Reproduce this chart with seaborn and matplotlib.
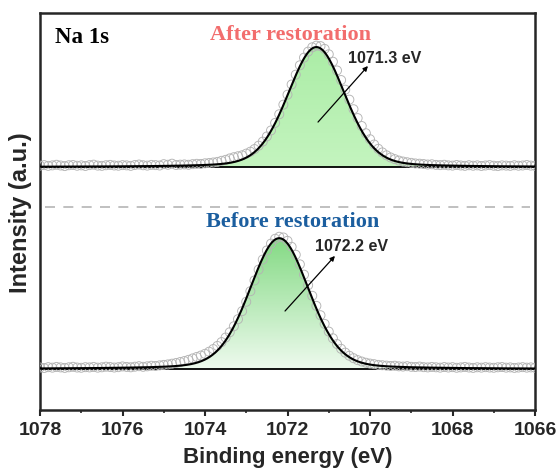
import numpy as np
import pandas as pd
import matplotlib
matplotlib.use("Agg")
import matplotlib.pyplot as plt
from matplotlib.colors import LinearSegmentedColormap
import seaborn as sns

# ---- data -------------------------------------------------------------
# binding-energy sampling of the survey (0.1 eV step)
energy = np.linspace(1078.0, 1066.0, 121)

# measured Na 1s counts (normalised, baseline removed)
after_counts = [
    0.012, 0.016, 0.010, 0.014, 0.019, 0.013, 0.008, 0.015, 0.017, 0.011,
    0.014, 0.009, 0.016, 0.020, 0.012, 0.010, 0.015, 0.018, 0.013, 0.011,
    0.016, 0.014, 0.010, 0.017, 0.021, 0.015, 0.012, 0.018, 0.016, 0.013,
    0.024, 0.019, 0.028, 0.017, 0.020, 0.022, 0.019, 0.024, 0.027, 0.026,
    0.031, 0.034, 0.038, 0.043, 0.052, 0.060, 0.072, 0.082, 0.090, 0.098,
    0.112, 0.128, 0.150, 0.178, 0.212, 0.255, 0.305, 0.368, 0.440, 0.520,
    0.603, 0.688, 0.770, 0.848, 0.912, 0.962, 0.998, 1.012, 1.008, 0.985,
    0.940, 0.878, 0.805, 0.725, 0.645, 0.562, 0.482, 0.408, 0.342, 0.282,
    0.232, 0.188, 0.152, 0.122, 0.098, 0.080, 0.066, 0.054, 0.046, 0.040,
    0.035, 0.030, 0.028, 0.025, 0.021, 0.023, 0.018, 0.016, 0.019, 0.014,
    0.012, 0.017, 0.013, 0.010, 0.015, 0.011, 0.014, 0.009, 0.013, 0.016,
    0.011, 0.008, 0.014, 0.012, 0.010, 0.015, 0.011, 0.013, 0.017, 0.012,
    0.010,
]
before_counts = [
    0.012, 0.008, 0.015, 0.011, 0.017, 0.013, 0.009, 0.014, 0.018, 0.012,
    0.010, 0.015, 0.013, 0.017, 0.011, 0.014, 0.019, 0.016, 0.012, 0.015,
    0.021, 0.017, 0.014, 0.019, 0.023, 0.018, 0.022, 0.027, 0.025, 0.030,
    0.034, 0.038, 0.044, 0.050, 0.058, 0.066, 0.076, 0.088, 0.100, 0.112,
    0.126, 0.144, 0.166, 0.192, 0.224, 0.262, 0.306, 0.356, 0.415, 0.482,
    0.560, 0.648, 0.738, 0.828, 0.912, 0.988, 1.045, 1.085, 1.102, 1.096,
    1.068, 1.018, 0.952, 0.872, 0.786, 0.698, 0.610, 0.526, 0.448, 0.376,
    0.312, 0.256, 0.208, 0.168, 0.136, 0.110, 0.090, 0.074, 0.062, 0.052,
    0.045, 0.040, 0.034, 0.031, 0.028, 0.025, 0.027, 0.022, 0.020, 0.023,
    0.018, 0.016, 0.020, 0.015, 0.013, 0.017, 0.014, 0.011, 0.016, 0.012,
    0.015, 0.010, 0.013, 0.017, 0.012, 0.009, 0.014, 0.011, 0.015, 0.012,
    0.010, 0.014, 0.016, 0.011, 0.013, 0.009, 0.012, 0.015, 0.011, 0.013,
    0.010,
]

# fitted Gaussian-Lorentzian components
labels = ["After restoration", "Before restoration"]
label_colors = ["#f26d6d", "#1b5e9f"]
peak_centers = [1071.3, 1072.2]
peak_heights = [1.0, 1.09]
peak_fwhm = [1.64, 1.70]
gl_mix = 0.2
offsets = [1.683, 0.0]

x_ticks = [1078, 1076, 1074, 1072, 1070, 1068, 1066]


def gl_peak(x, center, height, fwhm, mix):
    u = ((x - center) / (fwhm / 2.0)) ** 2
    return height * ((1 - mix) * np.exp(-np.log(2) * u) + mix / (1 + u))


# ---- figure -----------------------------------------------------------
sns.set_style("ticks")
plt.rcParams["font.family"] = ["Liberation Sans", "DejaVu Sans"]

fig = plt.figure(figsize=(5.6, 4.77), dpi=100)
ax = fig.add_axes([40 / 560, 66 / 477, 495 / 560, 397 / 477])

x_fit = np.linspace(1078.0, 1066.0, 1201)
fills = [("#abeda6", "#c4f4bf"), ("#84da84", "#eefaee")]

for k, counts in enumerate([after_counts, before_counts]):
    off = offsets[k]
    fit = gl_peak(x_fit, peak_centers[k], peak_heights[k], peak_fwhm[k], gl_mix)

    # gradient-filled area under the fitted component
    poly = ax.fill_between(x_fit, off, off + fit, facecolor="none",
                           edgecolor="none")
    cmap = LinearSegmentedColormap.from_list("g%d" % k, [fills[k][1], fills[k][0]])
    grad = np.linspace(0, 1, 256).reshape(-1, 1)
    im = ax.imshow(grad, cmap=cmap, aspect="auto", origin="lower",
                   extent=[1066.0, 1078.0, off, off + fit.max()], zorder=1,
                   interpolation="bilinear")
    im.set_clip_path(poly.get_paths()[0], transform=ax.transData)

    # baseline
    ax.plot([1078, 1066], [off, off], color="black", lw=1.3, zorder=2)

    df = pd.DataFrame({"energy": energy, "counts": np.asarray(counts) + off})
    sns.scatterplot(data=df, x="energy", y="counts", ax=ax, marker="o", s=42,
                    facecolor="none", edgecolor="#b4b4b4", linewidth=0.65,
                    zorder=3, legend=False)

    fdf = pd.DataFrame({"energy": x_fit, "fit": off + fit})
    sns.lineplot(data=fdf, x="energy", y="fit", ax=ax, color="black", lw=1.5,
                 zorder=4, sort=False)

# separator between the two spectra
ax.axhline(1.35, xmin=0.01, xmax=0.99, color="#b5b5b5", lw=1.2,
           dashes=(6, 5), zorder=1)

ax.set_xlim(1078, 1066)
ax.set_ylim(-0.342, 2.967)
ax.set_xticks(x_ticks)
ax.set_xticks(np.arange(1077, 1066, -2), minor=True)
ax.set_yticks([])
ax.tick_params(axis="x", which="major", direction="out", length=4, width=1.5,
               labelsize=14, pad=4)
ax.tick_params(axis="x", which="minor", direction="out", length=2.5, width=1.2)
for lab in ax.get_xticklabels():
    lab.set_fontweight("bold")
for sp in ax.spines.values():
    sp.set_linewidth(1.8)
    sp.set_visible(True)

ax.set_xlabel("Binding energy (eV)", fontsize=16, fontweight="bold", labelpad=6)
ax.set_ylabel("Intensity (a.u.)", fontsize=17, fontweight="bold", labelpad=6)

serif = ["Liberation Serif", "DejaVu Serif"]
ax.text(1077.64, 2.767, "Na 1s", fontsize=16.5, fontweight="bold",
        family=serif, ha="left", va="center", color="black")
ax.text(1071.92, 2.79, labels[0], fontsize=16, fontweight="bold",
        family=serif, ha="center", va="center", color=label_colors[0])
ax.text(1071.87, 1.233, labels[1], fontsize=16, fontweight="bold",
        family=serif, ha="center", va="center", color=label_colors[1])

# peak-position annotations
ann = [((1071.26, 2.058), (1070.05, 2.525), (1069.64, 2.60)),
       ((1072.06, 0.483), (1070.85, 0.942), (1070.44, 1.025))]
for k, (tail, head, txt) in enumerate(ann):
    ax.annotate("", xy=head, xytext=tail,
                arrowprops=dict(arrowstyle="-|>", color="black", lw=0.9,
                                mutation_scale=7, shrinkA=0, shrinkB=0),
                zorder=5)
    ax.text(txt[0], txt[1], f"{peak_centers[k]:.1f} eV", fontsize=11.5,
            fontweight="bold", ha="center", va="center", zorder=5)

fig.savefig("out.png", dpi=100)
